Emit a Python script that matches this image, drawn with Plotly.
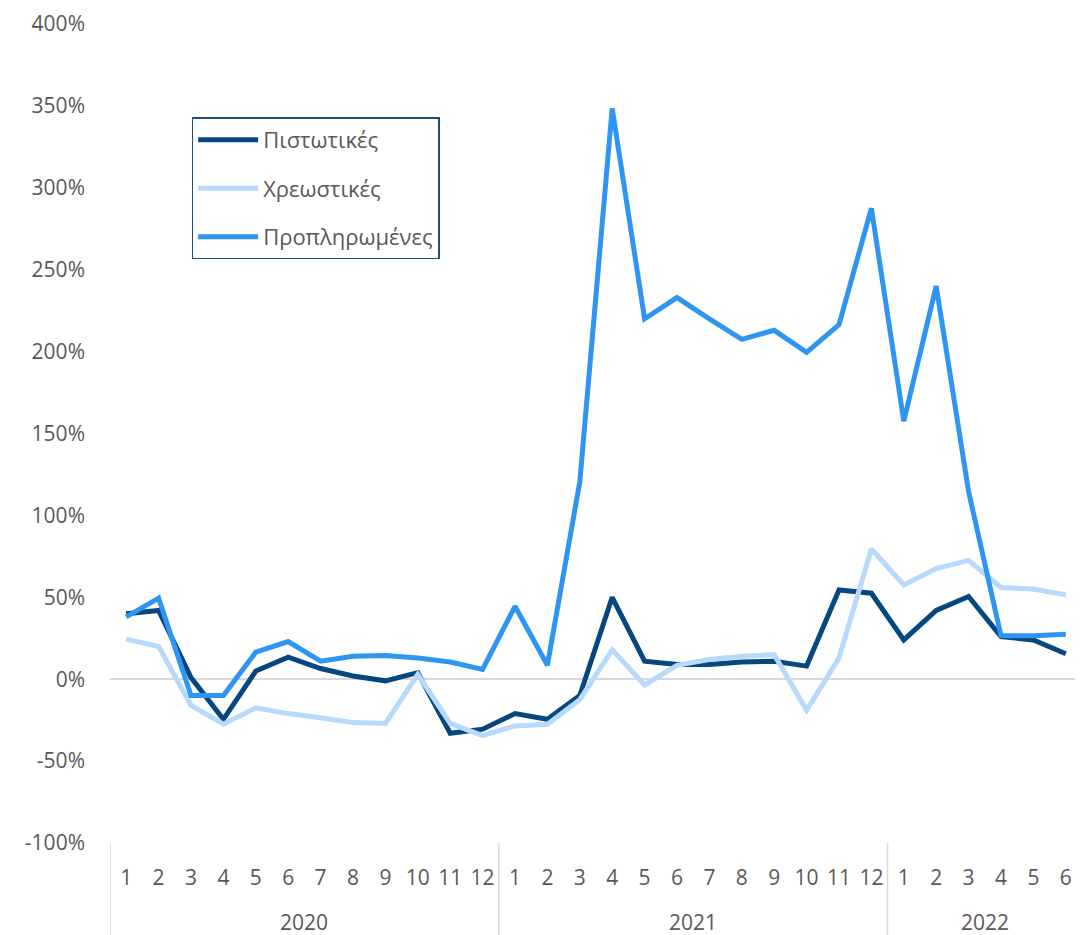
import plotly.graph_objects as go

# Category axis: year / month
years = ["2020"] * 12 + ["2021"] * 12 + ["2022"] * 6
months = [str(m) for m in range(1, 13)] + [str(m) for m in range(1, 13)] + [str(m) for m in range(1, 7)]

# Year-on-year change (%) per card type
credit = [40, 42, 1, -24.5, 5, 13.5, 6.5, 2, -1, 4, -33, -30.5,
          -21, -24.5, -10, 50, 11, 9, 9, 10.5, 11, 8, 54.5, 52.5,
          24, 42, 50.5, 26, 24, 15.5]
debit = [24.5, 20, -16, -27.5, -17.5, -21, -23.5, -26.5, -27, 3, -27, -34.5,
         -28.5, -27.5, -12.5, 18, -3.5, 8.5, 12, 14, 15, -19, 13, 79.5,
         57.5, 67.5, 72.5, 56, 55, 51.5]
prepaid = [38, 49.5, -10, -10, 16.5, 23, 11, 14, 14.5, 13, 10.5, 6,
           44.5, 8.5, 120.5, 348.5, 220, 233, 220, 207.5, 213, 199.5, 216.5, 287.5,
           157.5, 240, 114.5, 26.5, 26.5, 27.5]

y_ticks = [-100, -50, 0, 50, 100, 150, 200, 250, 300, 350, 400]
y_labels = [f"{v}%" for v in y_ticks]

INK = "#595959"
NAVY = "#06477f"
LIGHT = "#b7d9fb"
MID = "#2e95f3"
DIVIDER = "#d9d9d9"
FONT = "Open Sans, Noto Sans, sans-serif"

idx = list(range(len(months)))

fig = go.Figure()
for name, vals, color in [
    ("Πιστωτικές", credit, NAVY),
    ("Χρεωστικές", debit, LIGHT),
    ("Προπληρωμένες", prepaid, MID),
]:
    fig.add_trace(go.Scatter(
        x=idx, y=vals, name=name, mode="lines",
        legendgroup=name,
        line=dict(color=color, width=5),
    ))

# year labels and group dividers under the month labels
groups = []
for i, yr in enumerate(years):
    if not groups or groups[-1][0] != yr:
        groups.append([yr, i, i])
    else:
        groups[-1][2] = i
for yr, start, end in groups:
    fig.add_annotation(
        x=(start + end) / 2, y=-0.096, xref="x", yref="paper",
        text=yr, showarrow=False, yanchor="middle",
        font=dict(size=21, color=INK),
    )
edges = [g[1] - 0.5 for g in groups] + [groups[-1][2] + 0.5]
for e in edges:
    fig.add_shape(
        type="line", xref="x", yref="paper",
        x0=e, x1=e, y0=0, y1=-0.115,
        line=dict(color=DIVIDER, width=1.5),
    )

fig.update_layout(
    width=1075, height=927,
    template="plotly_white",
    plot_bgcolor="white", paper_bgcolor="white",
    font=dict(family=FONT, size=21, color=INK),
    margin=dict(l=102, r=1, t=12, b=92),
    legend=dict(
        x=0.084, y=0.886, xanchor="left", yanchor="top",
        bordercolor="#1f4e79", borderwidth=1.5,
        tracegroupgap=17, traceorder="grouped", itemwidth=60,
        font=dict(size=22, color=INK),
        bgcolor="white",
    ),
)
fig.update_xaxes(
    range=[-0.5, len(months) - 0.5],
    tickvals=idx, ticktext=months,
    showgrid=False, showline=False, ticks="", zeroline=False,
    ticklabelstandoff=20,
    tickfont=dict(size=21, color=INK),
)
fig.update_yaxes(
    range=[-100, 400], tickvals=y_ticks, ticktext=y_labels, showgrid=False,
    zeroline=True, zerolinecolor=DIVIDER, zerolinewidth=1.5,
    showline=False, ticks="", ticklabelstandoff=24,
    ticklabeloverflow="allow",
    tickfont=dict(size=21, color=INK),
)

fig.write_html("out.html")
